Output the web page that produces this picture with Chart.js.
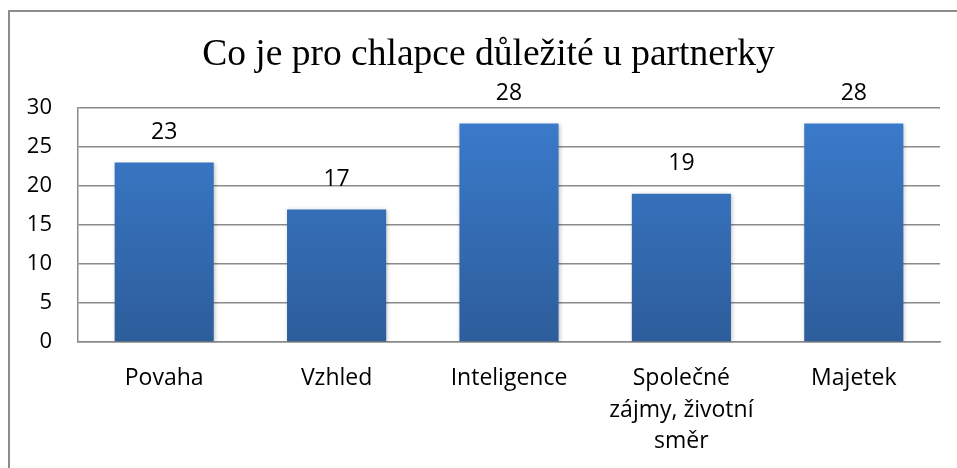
<!DOCTYPE html>
<html>
<head>
<meta charset="utf-8">
<script src="https://cdn.jsdelivr.net/npm/chart.js@4/dist/chart.umd.min.js"></script>
<style>
    html, body { margin: 0; padding: 0; background: #fff; overflow: hidden; }
    #wrap { position: relative; width: 957px; height: 468px; }
    #frame { position: absolute; left: 8px; top: 10px; width: 1000px; height: 500px;
             border-left: 2px solid #8c8c8c; border-top: 2px solid #8c8c8c; box-sizing: border-box; }
    #chart { position: absolute; left: 0; top: 0; }
</style>
</head>
<body>
<div id="wrap">
    <div id="frame"></div>
    <canvas id="chart" width="957" height="468"></canvas>
</div>
<script>
    var chartTitle = 'Co je pro chlapce důležité u partnerky';
    var categories = ['Povaha', 'Vzhled', 'Inteligence', ['Společné', 'zájmy, životní', 'směr'], 'Majetek'];
    var counts = [23, 17, 28, 19, 28];
    var axisMax = 30;
    var axisStep = 5;

    var labelFont = '"Open Sans", "Noto Sans", sans-serif';
    var gridColor = '#8a8a8a';

    // vertical blue gradient like the office chart style
    var barFill = function(context) {
        var area = context.chart.chartArea;
        if (!area)
            return '#3570b8';
        var g = context.chart.ctx.createLinearGradient(0, area.top, 0, area.bottom);
        g.addColorStop(0, '#3b7ccd');
        g.addColorStop(1, '#2d5d9b');
        return g;
    };

    var barShadow = {
        id: 'barShadow',
        beforeDatasetsDraw: function(chart) {
            var ctx = chart.ctx;
            ctx.save();
            ctx.shadowColor = 'rgba(0,0,0,0.25)';
            ctx.shadowBlur = 4;
            ctx.shadowOffsetX = 1;
            ctx.shadowOffsetY = 1;
        },
        afterDatasetsDraw: function(chart) {
            chart.ctx.restore();
        }
    };

    var valueLabels = {
        id: 'valueLabels',
        afterDatasetsDraw: function(chart) {
            var ctx = chart.ctx;
            var meta = chart.getDatasetMeta(0);
            ctx.save();
            ctx.font = '23px ' + labelFont;
            ctx.fillStyle = '#000';
            ctx.textAlign = 'center';
            ctx.textBaseline = 'middle';
            meta.data.forEach(function(bar, i) {
                ctx.fillText(String(counts[i]), bar.x, bar.y - 30);
            });
            ctx.restore();
        }
    };

    // title sits a little left of the plot centre, so draw it ourselves
    var serifTitle = {
        id: 'serifTitle',
        afterDraw: function(chart) {
            var ctx = chart.ctx;
            ctx.save();
            ctx.font = '37.5px "Liberation Serif", "Times New Roman", serif';
            ctx.fillStyle = '#000';
            ctx.textAlign = 'center';
            ctx.textBaseline = 'alphabetic';
            ctx.fillText(chartTitle, chart.width / 2 + 10, 65);
            ctx.restore();
        }
    };

    new Chart(document.getElementById('chart').getContext('2d'), {
        type: 'bar',
        data: {
            labels: categories,
            datasets: [{
                data: counts,
                backgroundColor: barFill,
                borderWidth: 0,
                categoryPercentage: 0.575,
                barPercentage: 1
            }]
        },
        options: {
            responsive: false,
            animation: false,
            layout: { padding: { left: 0, right: 17, top: 108, bottom: 0 } },
            plugins: {
                legend: { display: false },
                tooltip: { enabled: false },
                title: { display: false }
            },
            scales: {
                x: {
                    grid: { display: false, drawTicks: false },
                    border: { display: true, color: gridColor, width: 1.5 },
                    ticks: {
                        color: '#000',
                        padding: 20,
                        maxRotation: 0,
                        autoSkip: false,
                        font: { family: labelFont, size: 23, lineHeight: 1.39 }
                    },
                    afterFit: function(scale) { scale.height = 126; }
                },
                y: {
                    min: 0,
                    max: axisMax,
                    grid: { color: gridColor, lineWidth: 1.5, drawTicks: false },
                    border: { display: true, color: gridColor, width: 1.5 },
                    ticks: {
                        stepSize: axisStep,
                        color: '#000',
                        padding: 26,
                        font: { family: labelFont, size: 22 }
                    },
                    afterFit: function(scale) { scale.width = 78; }
                }
            }
        },
        plugins: [barShadow, valueLabels, serifTitle]
    });
</script>
</body>
</html>
